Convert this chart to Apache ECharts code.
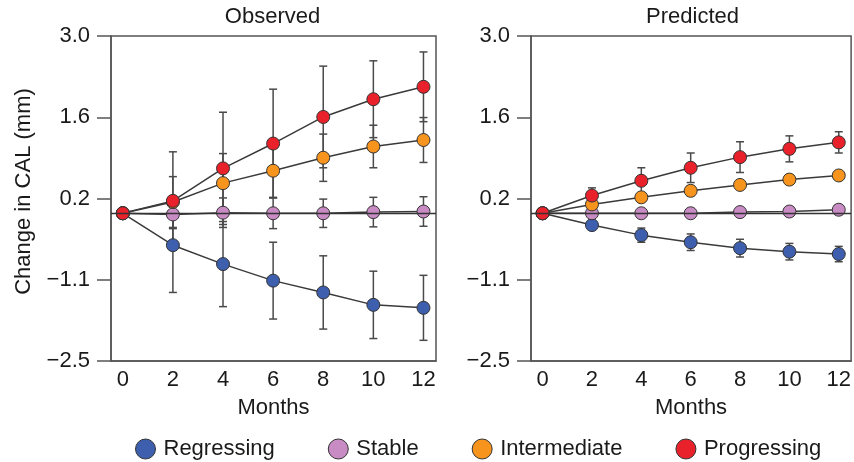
<!DOCTYPE html>
<html lang="en">
<head>
  <meta charset="UTF-8" />
  <title>Change in CAL: observed vs predicted</title>
  <script src="https://cdnjs.cloudflare.com/ajax/libs/echarts/6.0.0/echarts.min.js"></script>
  <style>
    body { margin: 0; background: #fff; }
    #main { width: 854px; height: 462px; }
  </style>
</head>
<body>
  <div id="main"></div>
  <script>
    // months on the x axis
    const months = [0, 2, 4, 6, 8, 10, 12];
    const groups = ["Regressing", "Stable", "Intermediate", "Progressing"];
    const colors = ["#3d5fae", "#c98bc4", "#f7941e", "#e8212b"];

    // y ticks: the axis runs -2.5..3.0 in four equal steps
    const yTickValues = [-2.5, -1.125, 0.25, 1.625, 3.0];
    const yTickLabels = ["\u22122.5", "\u22121.1", "0.2", "1.6", "3.0"];
    const xTickValues = [0, 2, 4, 6, 8, 10, 12];

    // Observed means and error bar half-widths
    const obsReg = [0, -0.54, -0.86, -1.14, -1.34, -1.55, -1.60];
    const obsRegErr = [0, 0.80, 0.72, 0.65, 0.62, 0.57, 0.55];
    const obsSta = [0, -0.02, 0.01, 0, 0, 0.02, 0.03];
    const obsStaErr = [0, 0.24, 0.25, 0.26, 0.24, 0.25, 0.25];
    const obsInt = [0, 0.19, 0.51, 0.72, 0.94, 1.13, 1.24];
    const obsIntErr = [0, 0.43, 0.50, 0.45, 0.40, 0.36, 0.38];
    const obsPro = [0, 0.21, 0.76, 1.18, 1.63, 1.93, 2.14];
    const obsProErr = [0, 0.83, 0.95, 0.92, 0.86, 0.65, 0.59];

    // Predicted means and error bar half-widths
    const preReg = [0, -0.20, -0.37, -0.49, -0.59, -0.65, -0.69];
    const preRegErr = [0, 0.04, 0.12, 0.14, 0.15, 0.14, 0.13];
    const preSta = [0, 0, 0, 0, 0.02, 0.03, 0.06];
    const preStaErr = [0, 0.02, 0.03, 0.04, 0.06, 0.07, 0.08];
    const preInt = [0, 0.15, 0.27, 0.38, 0.48, 0.57, 0.64];
    const preIntErr = [0, 0.04, 0.06, 0.08, 0.07, 0.06, 0.06];
    const prePro = [0, 0.30, 0.55, 0.77, 0.95, 1.09, 1.20];
    const preProErr = [0, 0.13, 0.22, 0.25, 0.26, 0.22, 0.18];

    const panels = [
      { title: "Observed", means: [obsReg, obsSta, obsInt, obsPro], errs: [obsRegErr, obsStaErr, obsIntErr, obsProErr] },
      { title: "Predicted", means: [preReg, preSta, preInt, prePro], errs: [preRegErr, preStaErr, preIntErr, preProErr] },
    ];

    const font = "'Liberation Sans', Arial, Helvetica, sans-serif";
    const axisColor = "#555";
    const gridLeft = [111, 531];
    const gridW = 325;

    function errorItem(params, api) {
      const x = api.value(0), y = api.value(1), e = api.value(2);
      if (!e) return null;
      const top = api.coord([x, y + e]);
      const bot = api.coord([x, y - e]);
      const w = 4;
      const style = { stroke: "#4a4a4a", lineWidth: 1.5 };
      return {
        type: "group",
        children: [
          { type: "line", shape: { x1: top[0], y1: top[1], x2: bot[0], y2: bot[1] }, style },
          { type: "line", shape: { x1: top[0] - w, y1: top[1], x2: top[0] + w, y2: top[1] }, style },
          { type: "line", shape: { x1: bot[0] - w, y1: bot[1], x2: bot[0] + w, y2: bot[1] }, style },
        ],
      };
    }

    const grids = [], xAxes = [], yAxes = [], titles = [], series = [];

    panels.forEach((p, pi) => {
      grids.push({
        left: gridLeft[pi], top: 36, width: gridW, height: 325,
        show: true, borderColor: axisColor, borderWidth: 1.5,
      });
      titles.push({
        text: p.title, left: gridLeft[pi] + gridW / 2 - 1, top: 6, padding: 0, textAlign: "center",
        textStyle: { fontFamily: font, fontSize: 22, fontWeight: "normal", color: "#1a1a1a" },
      });
      xAxes.push({
        gridIndex: pi, type: "value", min: -0.47, max: 12.5,
        name: "Months", nameLocation: "middle", nameGap: 36,
        nameTextStyle: { fontFamily: font, fontSize: 22, color: "#1a1a1a" },
        axisLine: { show: true, onZero: false, lineStyle: { color: axisColor, width: 1.5 } },
        axisTick: { show: false },
        splitLine: { show: false },
        axisLabel: { customValues: xTickValues, margin: 8, fontFamily: font, fontSize: 22, color: "#1a1a1a" },
      });
      yAxes.push({
        gridIndex: pi, type: "value", min: -2.5, max: 3.0,
        name: pi === 0 ? "Change in CAL (mm)" : "",
        nameLocation: "middle", nameGap: 76, nameRotate: 90,
        nameTextStyle: { fontFamily: font, fontSize: 22, color: "#1a1a1a", padding: [0, 0, 0, 14] },
        axisLine: { show: true, onZero: false, lineStyle: { color: axisColor, width: 1.5 } },
        axisTick: { show: true, customValues: yTickValues, length: 14, lineStyle: { color: axisColor, width: 1.5 } },
        splitLine: { show: false },
        axisLabel: {
          customValues: yTickValues, margin: 21, fontFamily: font, fontSize: 22, color: "#1a1a1a",
          formatter: (v) => yTickLabels[yTickValues.indexOf(v)] ?? "",
        },
      });

      // error bars first so the markers sit on top
      groups.forEach((g, gi) => {
        series.push({
          type: "custom", name: g + " error", xAxisIndex: pi, yAxisIndex: pi,
          renderItem: errorItem, silent: true, z: 2,
          data: months.map((m, i) => [m, p.means[gi][i], p.errs[gi][i]]),
        });
      });

      groups.forEach((g, gi) => {
        const s = {
          type: "line", name: g, xAxisIndex: pi, yAxisIndex: pi, z: 3,
          data: months.map((m, i) => [m, p.means[gi][i]]),
          symbol: "circle", symbolSize: 13,
          lineStyle: { color: "#3a3a3a", width: 1.5 },
          itemStyle: { color: colors[gi], borderColor: "#333", borderWidth: 1 },
          emphasis: { disabled: true },
          animation: false,
        };
        if (gi === 0) {
          s.markLine = {
            silent: true, symbol: "none", label: { show: false },
            lineStyle: { color: "#333", width: 1.3, type: "solid" },
            data: [{ yAxis: 0 }],
          };
        }
        series.push(s);
      });
    });

    const chart = echarts.init(document.getElementById("main"));
    chart.setOption({
      animation: false,
      title: titles,
      grid: grids,
      xAxis: xAxes,
      yAxis: yAxes,
      legend: {
        left: 130, top: 433, itemWidth: 20, itemHeight: 20, itemGap: 53,
        icon: "circle",
        textStyle: { fontFamily: font, fontSize: 22, color: "#1a1a1a", padding: [0, 0, 0, 3] },
        data: groups.map((g, gi) => ({
          name: g, icon: "circle",
          itemStyle: { color: colors[gi], borderColor: "#333", borderWidth: 1 },
        })),
      },
      series: series,
    });
  </script>
</body>
</html>
